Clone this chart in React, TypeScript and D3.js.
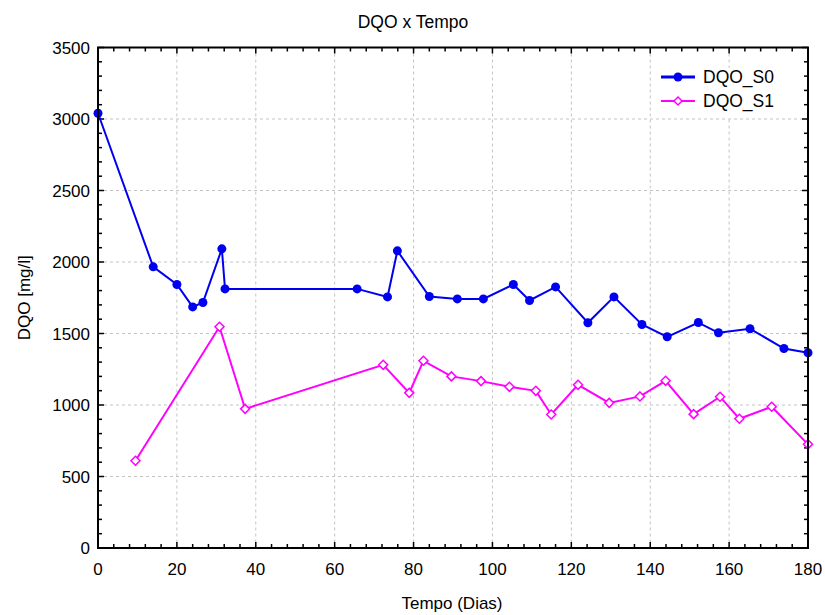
import React from 'react'
import * as d3 from 'd3'

// DQO_S0 series (dias, mg/l)
const s0Days = [0, 14, 20, 24, 26.6, 31.4, 32.2, 65.7, 73.4, 75.9, 84, 91.1, 97.7, 105.3, 109.4, 116, 124.2, 130.8, 137.9, 144.3, 152.2, 157.3, 165.3, 173.9, 180]
const s0Values = [3040, 1966, 1843, 1686, 1717, 2092, 1812, 1812, 1756, 2078, 1759, 1742, 1742, 1843, 1731, 1826, 1575, 1756, 1563, 1477, 1577, 1505, 1533, 1395, 1365]

// DQO_S1 series
const s1Days = [9.5, 30.8, 37.3, 72.3, 78.9, 82.5, 89.6, 97.1, 104.3, 111, 114.9, 121.7, 129.6, 137.4, 143.9, 151, 157.7, 162.6, 170.8, 180]
const s1Values = [610, 1547, 973, 1281, 1085, 1309, 1200, 1167, 1127, 1099, 934, 1141, 1015, 1060, 1169, 936, 1058, 904, 988, 725]

const xTicks = [0, 20, 40, 60, 80, 100, 120, 140, 160, 180]
const yTicks = [0, 500, 1000, 1500, 2000, 2500, 3000, 3500]

const W = 825
const H = 615
const left = 98
const right = 808
const top = 47.5
const bottom = 548

const FONT = '"Liberation Sans", Arial, sans-serif'
const BLUE = '#0000f0'
const MAGENTA = '#ff00ff'

export default function App() {
  const x = d3.scaleLinear().domain([0, 180]).range([left, right])
  const y = d3.scaleLinear().domain([0, 3500]).range([bottom, top])

  const s0 = s0Days.map((d, i) => [d, s0Values[i]] as [number, number])
  const s1 = s1Days.map((d, i) => [d, s1Values[i]] as [number, number])

  const line = d3.line<[number, number]>().x(d => x(d[0])).y(d => y(d[1]))

  const xMinor = d3.range(0, 181, 4)
  const yMinor = d3.range(0, 3501, 100)

  const diamond = (cx: number, cy: number, r: number) =>
    `M${cx},${cy - r}L${cx + r},${cy}L${cx},${cy + r}L${cx - r},${cy}Z`

  const legX = 661
  const legY0 = 77
  const legY1 = 101

  return (
    <svg width={W} height={H} style={{ position: 'absolute', left: 0, top: 0, fontFamily: FONT }}>
      <rect width={W} height={H} fill="#fff" />

      {/* grid */}
      <g stroke="#c4c4c4" strokeWidth={1} strokeDasharray="3,3">
        {xTicks.slice(1, -1).map(t => (
          <line key={'gx' + t} x1={x(t)} x2={x(t)} y1={top} y2={bottom} />
        ))}
        {yTicks.slice(1, -1).map(t => (
          <line key={'gy' + t} x1={left} x2={right} y1={y(t)} y2={y(t)} />
        ))}
      </g>

      {/* legend background */}
      <rect x={653} y={68} width={right - 654} height={49} fill="#fff" />

      {/* ticks (inward, all sides) */}
      <g stroke="#000" strokeWidth={1.5}>
        {xMinor.map(t => {
          const major = t % 20 === 0
          const len = major ? 6 : 4
          return (
            <g key={'tx' + t}>
              <line x1={x(t)} x2={x(t)} y1={bottom} y2={bottom - len} />
              <line x1={x(t)} x2={x(t)} y1={top} y2={top + len} />
            </g>
          )
        })}
        {yMinor.map(t => {
          const major = t % 500 === 0
          const len = major ? 6 : 4
          return (
            <g key={'ty' + t}>
              <line x1={left} x2={left + len} y1={y(t)} y2={y(t)} />
              <line x1={right} x2={right - len} y1={y(t)} y2={y(t)} />
            </g>
          )
        })}
      </g>

      {/* series lines */}
      <path d={line(s1) || ''} fill="none" stroke={MAGENTA} strokeWidth={2} />
      <path d={line(s0) || ''} fill="none" stroke={BLUE} strokeWidth={2} />

      {/* markers */}
      {s1.map((d, i) => (
        <path key={'m1' + i} d={diamond(x(d[0]), y(d[1]), 4.5)} fill="#fff" stroke={MAGENTA} strokeWidth={1.5} />
      ))}
      {s0.map((d, i) => (
        <circle key={'m0' + i} cx={x(d[0])} cy={y(d[1])} r={4.5} fill={BLUE} />
      ))}

      {/* frame */}
      <rect x={left} y={top} width={right - left} height={bottom - top} fill="none" stroke="#000" strokeWidth={2} />

      {/* tick labels */}
      <g fontSize={17} fill="#000">
        {xTicks.map(t => (
          <text key={'lx' + t} x={x(t)} y={575} textAnchor="middle">{t}</text>
        ))}
        {yTicks.map(t => (
          <text key={'ly' + t} x={90} y={y(t)} dy="0.36em" textAnchor="end">{t}</text>
        ))}
      </g>

      {/* titles */}
      <text x={413} y={28} textAnchor="middle" fontSize={17.5}>DQO x Tempo</text>
      <text x={452} y={609} textAnchor="middle" fontSize={17}>Tempo (Dias)</text>
      <text transform={`translate(30,${(top + bottom) / 2}) rotate(-90)`} textAnchor="middle" fontSize={17}>DQO [mg/l]</text>

      {/* legend */}
      <line x1={legX} x2={legX + 34} y1={legY0} y2={legY0} stroke={BLUE} strokeWidth={3} />
      <circle cx={legX + 17} cy={legY0} r={4.5} fill={BLUE} />
      <text x={703} y={legY0} dy="0.36em" fontSize={17.5}>DQO_S0</text>
      <line x1={legX} x2={legX + 34} y1={legY1} y2={legY1} stroke={MAGENTA} strokeWidth={2} />
      <path d={diamond(legX + 17, legY1, 4)} fill="#fff" stroke={MAGENTA} strokeWidth={1.5} />
      <text x={703} y={legY1} dy="0.36em" fontSize={17.5}>DQO_S1</text>
    </svg>
  )
}
